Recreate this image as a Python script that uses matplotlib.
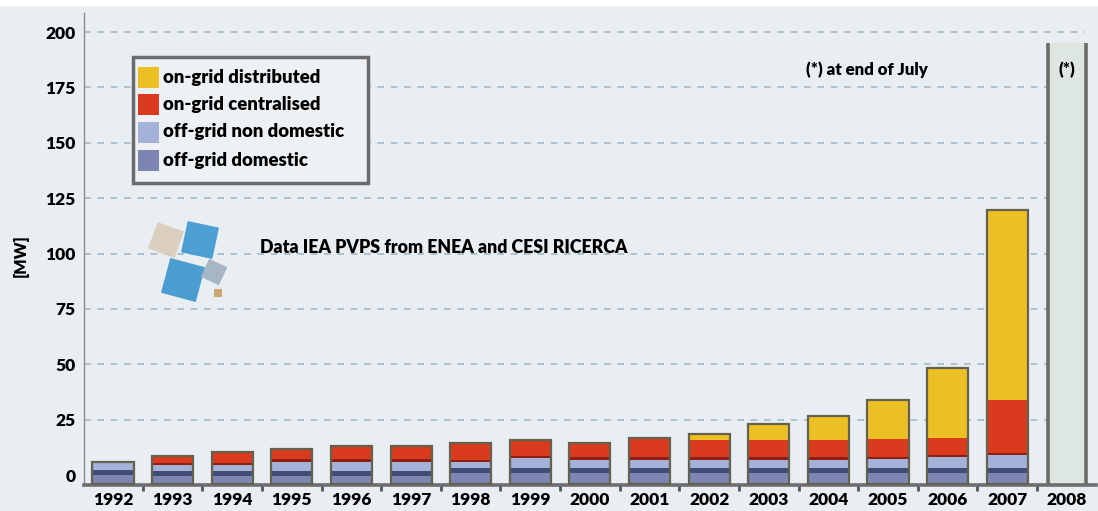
import matplotlib
matplotlib.use("Agg")
import matplotlib.pyplot as plt
from matplotlib.patches import Rectangle, Polygon
import numpy as np

# ---------------- data (MW, segment thickness) ----------------
years = ['1992', '1993', '1994', '1995', '1996', '1997', '1998', '1999',
         '2000', '2001', '2002', '2003', '2004', '2005', '2006', '2007', '2008']
off_grid_domestic = [6.3, 6.0, 6.0, 6.0, 6.0, 6.0, 7.5, 7.5,
                     7.2, 7.2, 7.2, 7.2, 7.2, 7.2, 7.2, 7.2]
off_grid_non_domestic = [3.6, 2.6, 2.6, 4.1, 4.1, 4.1, 2.5, 4.1,
                         3.9, 3.9, 3.9, 3.9, 3.9, 4.1, 5.0, 5.9]
on_grid_centralised = [0.0, 4.1, 6.0, 5.7, 7.2, 7.2, 8.4, 8.1,
                       7.5, 9.9, 8.7, 8.7, 8.7, 8.9, 8.4, 24.8]
on_grid_distributed = [0.0, 0.0, 0.0, 0.0, 0.0, 0.0, 0.0, 0.0,
                       0.0, 0.0, 2.7, 7.2, 11.0, 17.7, 31.6, 85.8]
total_2008 = 199.1
legend_labels = ['on-grid distributed', 'on-grid centralised',
                 'off-grid non domestic', 'off-grid domestic']
yticks = [0, 25, 50, 75, 100, 125, 150, 175, 200]

# ---------------- style ----------------
W, H = 1098, 511
BG = '#e9eef2'
C_DIST = '#ecbf24'
C_CENT = '#da3b1f'
C_CENT_DARK = '#8e1d12'
C_NOND = '#a4b1d9'
C_DOM = '#7d86b3'
C_DOM_DARK = '#414d75'
C_EDGE = '#64614f'
BASE = -4.1
FONT = 'Lato'
WEIGHT = 'heavy'

plt.rcParams['font.family'] = [FONT, 'DejaVu Sans']


def fx(x):
    return x / W


def fy(y):
    return 1 - y / H


fig = plt.figure(figsize=(W / 100, H / 100), dpi=100, facecolor=BG)
fig.patches.append(Rectangle((0, fy(6)), 1, 1 - fy(6), transform=fig.transFigure,
                             facecolor='white', edgecolor='none', zorder=0))

ax = fig.add_axes([fx(84), fy(485), fx(1096) - fx(84), fy(13) - fy(485)])
ax.set_facecolor(BG)
ax.set_xlim(-0.487, 16.49)
ax.set_ylim(-4.5, 208.6)

# grid lines
ax.hlines(yticks[1:], -0.487, 16.3, colors='#a3b9c9', linestyles=(0, (4, 4)),
          linewidth=1.2, zorder=1)

n = len(off_grid_domestic)
x = np.arange(n)
bw = 0.69
dom = np.array(off_grid_domestic)
nond = np.array(off_grid_non_domestic)
cent = np.array(on_grid_centralised)
dist = np.array(on_grid_distributed)

b0 = np.full(n, BASE)
ax.bar(x, dom, bw, bottom=b0, color=C_DOM, zorder=2)
ax.bar(x, np.full(n, 2.3), bw, bottom=b0 + dom - 2.3, color=C_DOM_DARK, zorder=2)
b1 = b0 + dom
ax.bar(x, nond, bw, bottom=b1, color=C_NOND, zorder=2)
b2 = b1 + nond
ax.bar(x, cent, bw, bottom=b2, color=C_CENT, zorder=2)
has_c = cent > 0
ax.bar(x[has_c], np.full(has_c.sum(), 1.1), bw, bottom=b2[has_c], color=C_CENT_DARK, zorder=2)
b3 = b2 + cent
ax.bar(x, dist, bw, bottom=b3, color=C_DIST, zorder=2)
top = b3 + dist
# outline
ax.bar(x, top - BASE, bw, bottom=BASE, fill=False, edgecolor=C_EDGE, linewidth=1.6, zorder=3)

# 2008 bar (total only)
x8 = 16
w8 = 0.64
ax.bar([x8], [total_2008], w8, bottom=BASE, color='#dde6e1', zorder=2)
ax.vlines([x8 - w8 / 2, x8 + w8 / 2], BASE, BASE + total_2008, colors='#6c6c66',
          linewidth=2.6, zorder=3)

# axes styling
for s in ['top', 'right']:
    ax.spines[s].set_visible(False)
ax.spines['left'].set_color('#8a8a8a')
ax.spines['left'].set_linewidth(1.0)
ax.spines['bottom'].set_color('#6e6e6e')
ax.spines['bottom'].set_linewidth(2.6)

ax.set_yticks(yticks)
ax.set_yticklabels([str(v) for v in yticks], fontsize=12.5, fontweight=WEIGHT)
ax.tick_params(axis='y', length=0, pad=6)
ax.set_xticks(np.arange(len(years)))
ax.set_xticklabels(years, fontsize=12.5, fontweight=WEIGHT)
ax.tick_params(axis='x', which='major', length=0, pad=5)
ax.set_xticks(np.arange(0.5, 16.5, 1.0), minor=True)
ax.tick_params(axis='x', which='minor', length=4, width=2, color='#555555', direction='out')

fig.text(fx(21), fy(256), '[MW]', rotation=90, fontsize=11.5, fontweight=WEIGHT,
         ha='center', va='center')

# legend (manual box)
fig.patches.append(Rectangle((fx(133), fy(183)), fx(368) - fx(133), fy(57) - fy(183),
                             transform=fig.transFigure, facecolor='#edf1f4',
                             edgecolor='#6b6b6b', linewidth=2.5, zorder=5))
leg_colors = [C_DIST, C_CENT, C_NOND, C_DOM]
row_y = [77.5, 104.5, 132, 160.5]
for c, lab, yy in zip(leg_colors, legend_labels, row_y):
    fig.patches.append(Rectangle((fx(138), fy(yy + 10.5)), fx(21), 21 / H,
                                 transform=fig.transFigure, facecolor=c,
                                 edgecolor='none', zorder=6))
    fig.text(fx(163), fy(yy), lab, fontsize=13.3, fontweight=WEIGHT, ha='left',
             va='center', zorder=7)

# annotations
fig.text(fx(928), fy(70), '(*) at end of July', fontsize=12.2, fontweight=WEIGHT,
         ha='right', va='center')
fig.text(fx(1067), fy(70), '(*)', fontsize=12.2, fontweight=WEIGHT, ha='center', va='center')
fig.text(fx(260), fy(247), 'Data IEA PVPS from ENEA and CESI RICERCA', fontsize=12.8,
         fontweight=WEIGHT, ha='left', va='center')

# logo approximation


def square(cx, cy, s, ang, color):
    a = np.deg2rad(ang)
    pts = []
    for dx, dy in [(-1, -1), (1, -1), (1, 1), (-1, 1)]:
        px = cx + (dx * np.cos(a) - dy * np.sin(a)) * s / 2
        py = cy + (dx * np.sin(a) + dy * np.cos(a)) * s / 2
        pts.append((fx(px), fy(py)))
    fig.patches.append(Polygon(pts, closed=True, transform=fig.transFigure,
                               facecolor=color, edgecolor='none', alpha=0.9, zorder=4))


square(166, 240, 28, 20, '#d9ccba')
square(200, 240, 32, 12, '#3c98cf')
square(183, 280, 36, 15, '#3a94cc')
square(214, 272, 20, 25, '#9fb0c0')
square(218, 293, 8, 0, '#c9a066')

fig.savefig('out.png', dpi=100, facecolor=BG)
